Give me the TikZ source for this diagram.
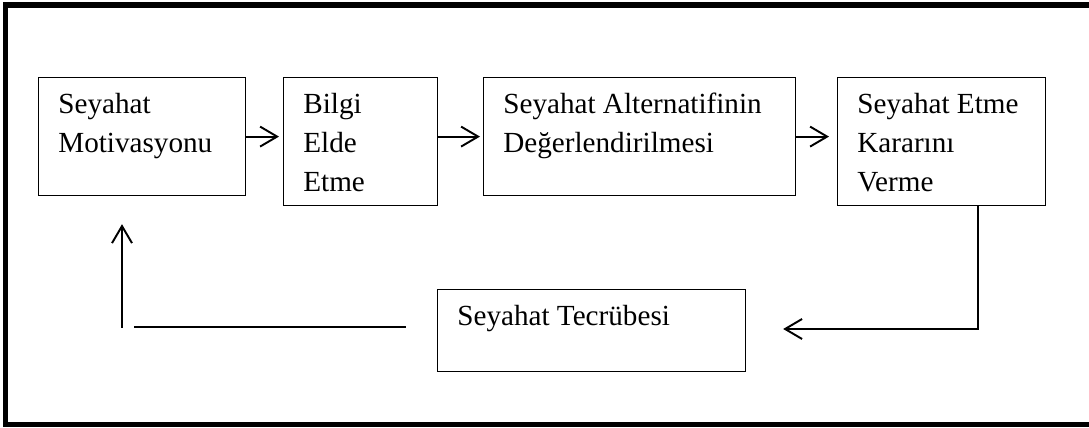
\documentclass[tikz,border=0pt]{standalone}
\usepackage{fontspec}
\setmainfont{Liberation Serif}
\usepackage{tikz}
\usetikzlibrary{arrows.meta}

\begin{document}
\begin{tikzpicture}[x=0.02cm,y=-0.02cm,
	box/.style={draw,line width=0.7pt,anchor=north west,inner sep=0pt},
	txt/.style={anchor=north west,inner sep=0pt,align=left,font=\fontsize{16.6}{22.2}\selectfont},
	arr/.style={line width=1.1pt,-{Straight Barb[length=0.34cm,width=0.4cm,line width=1.1pt]}},
	line/.style={line width=1.1pt}]
	\useasboundingbox (0,0) rectangle (1089,428);
	\clip (0,0) rectangle (1089,428);
	
	%outer frame
	\draw[line width=0.11cm] (5.5,5) rectangle (1100,424.5);
	
	%boxes
	\node[box,minimum width=4.14cm,minimum height=2.36cm] (motiv) at (38,77)   {};
	\node[box,minimum width=3.08cm,minimum height=2.56cm] (bilgi) at (283,77)  {};
	\node[box,minimum width=6.24cm,minimum height=2.36cm] (alter) at (483,77)  {};
	\node[box,minimum width=4.16cm,minimum height=2.56cm] (karar) at (837,77)  {};
	\node[box,minimum width=6.16cm,minimum height=1.64cm] (tecr)  at (437,289) {};
	
	%labels
	\node[txt] (motivtxt) at ([shift={(20,16)}]motiv.north west) {Seyahat\\Motivasyonu};
	\node[txt] (bilgitxt) at ([shift={(20,16)}]bilgi.north west) {Bilgi\\Elde\\Etme};
	\node[txt] (altertxt) at ([shift={(20,16)}]alter.north west) {Seyahat Alternatifinin\\De\u{g}erlendirilmesi};
	\node[txt] (karartxt) at ([shift={(20,16)}]karar.north west) {Seyahat Etme\\Karar\i n\i\\Verme};
	\node[txt] (tecrtxt)  at ([shift={(20,16)}]tecr.north west)  {Seyahat Tecr\"ubesi};
	
	%horizontal arrows
	\draw[arr,shorten >=0.08cm] (motiv.east) -- (motiv.east -| bilgi.west);
	\draw[arr,shorten >=0.06cm] (bilgi.west |- motiv.east) ++(154,0) coordinate (b2) -- (b2 -| alter.west);
	\draw[arr,shorten >=0.16cm] (alter.east) -- (alter.east -| karar.west);
	
	%feedback loop
	\coordinate (corner) at (978,329);
	\coordinate (linel)  at (134,327);
	\coordinate (upend)  at (122,328);
	\draw[arr,shorten >=0.74cm] (karar.south -| corner) -- (corner) -- (corner -| tecr.east);
	\draw[line,shorten >=0.62cm] (linel) -- (linel -| tecr.west);
	\draw[arr,shorten >=0.56cm] (upend) -- (upend |- motiv.south);
\end{tikzpicture}
\end{document}
